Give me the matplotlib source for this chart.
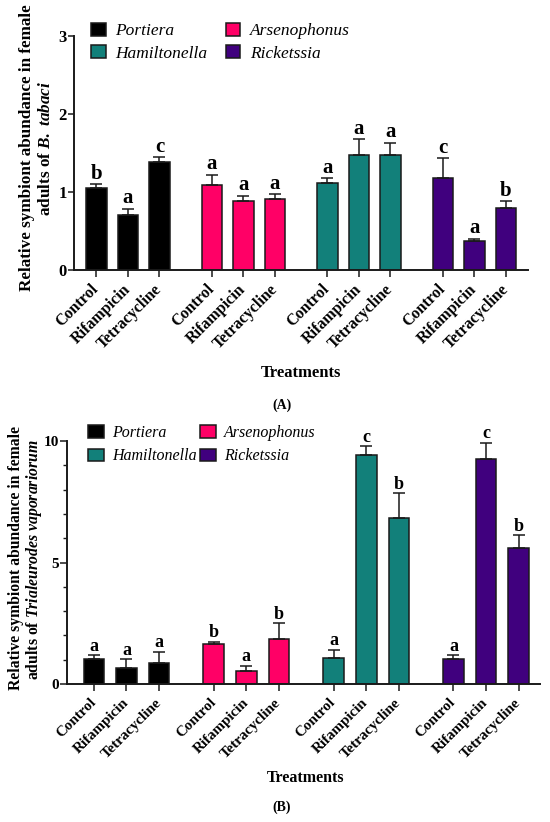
import matplotlib
matplotlib.use("Agg")
import matplotlib.pyplot as plt
from matplotlib.patches import Patch
import numpy as np

# ---------------- data ----------------
treatments = ["Control", "Rifampicin", "Tetracycline"]
symbionts = ["Portiera", "Arsenophonus", "Hamiltonella", "Ricketssia"]
colors = ["#000000", "#FF0066", "#12807A", "#40007E"]

# Panel A: B. tabaci
a_portiera = [1.055, 0.705, 1.385]
a_portiera_err = [0.045, 0.075, 0.06]
a_arseno = [1.085, 0.88, 0.91]
a_arseno_err = [0.135, 0.07, 0.06]
a_hamilt = [1.115, 1.47, 1.47]
a_hamilt_err = [0.06, 0.205, 0.16]
a_ricket = [1.18, 0.376, 0.80]
a_ricket_err = [0.25, 0.025, 0.08]
a_letters = [["b", "a", "c"], ["a", "a", "a"], ["a", "a", "a"], ["c", "a", "b"]]

# Panel B: Trialeurodes vaporariorum
b_portiera = [1.01, 0.67, 0.86]
b_portiera_err = [0.17, 0.34, 0.47]
b_arseno = [1.64, 0.52, 1.86]
b_arseno_err = [0.10, 0.23, 0.63]
b_hamilt = [1.05, 9.42, 6.85]
b_hamilt_err = [0.35, 0.36, 0.99]
b_ricket = [1.01, 9.27, 5.60]
b_ricket_err = [0.17, 0.65, 0.52]
b_letters = [["a", "a", "a"], ["b", "a", "b"], ["a", "c", "b"], ["a", "c", "b"]]

# ---------------- style ----------------
plt.rcParams["font.family"] = ["Liberation Serif", "DejaVu Serif"]
plt.rcParams["font.weight"] = "bold"
plt.rcParams["mathtext.fontset"] = "custom"
plt.rcParams["mathtext.rm"] = "Liberation Serif:bold"
plt.rcParams["mathtext.it"] = "Liberation Serif:italic:bold"
plt.rcParams["mathtext.bf"] = "Liberation Serif:bold"

W, H = 550, 822
fig = plt.figure(figsize=(W / 100, H / 100), dpi=100)
GROUP = 3.667
EDGE = "#1a1a1a"


def ax_at(l, r, t, b):
    return fig.add_axes([l / W, 1 - b / H, (r - l) / W, (b - t) / H])


def draw(ax, means, errs, letters, width, ylim, xlim, lfs, tfs, yfs):
    xs_all = []
    for g in range(4):
        xs = g * GROUP + np.arange(3)
        xs_all.extend(xs)
        ax.bar(xs, means[g], width, color=colors[g], edgecolor=EDGE,
               linewidth=1.1, zorder=2)
        ax.errorbar(xs, means[g], yerr=[np.zeros(3), errs[g]], fmt="none",
                    ecolor=EDGE, elinewidth=1.1, capsize=4.3, capthick=1.1,
                    zorder=3)
        for x, m, e, l in zip(xs, means[g], errs[g], letters[g]):
            ax.annotate(l, (x, m + e), xytext=(0, 0.5), textcoords="offset points",
                        ha="center", va="bottom", fontsize=lfs, fontweight="bold")
    ax.set_xlim(*xlim)
    ax.set_ylim(*ylim)
    ax.set_xticks(xs_all)
    ax.set_xticklabels(treatments * 4, rotation=45, ha="right", va="center",
                       rotation_mode="anchor", fontsize=tfs, fontweight="bold")
    for s in ["top", "right"]:
        ax.spines[s].set_visible(False)
    for s in ["left", "bottom"]:
        ax.spines[s].set_linewidth(1.4)
        ax.spines[s].set_color(EDGE)
    ax.tick_params(axis="x", length=5, width=1.1, pad=7, color=EDGE)
    ax.tick_params(axis="y", length=4, width=1.1, pad=1.0, color=EDGE)


# ---------------- panel A ----------------
axA = ax_at(74, 528, 36, 270)
draw(axA,
     [a_portiera, a_arseno, a_hamilt, a_ricket],
     [a_portiera_err, a_arseno_err, a_hamilt_err, a_ricket_err],
     a_letters, 0.65, (0, 3), (-0.71, 13.7), 15, 11.5, 11.5)
axA.set_yticks([0, 1, 2, 3])
axA.set_yticklabels(["0", "1", "2", "3"], fontweight="bold", fontsize=12)

handles = [Patch(facecolor=colors[i], edgecolor=EDGE, linewidth=1.1, label=symbionts[i])
           for i in [0, 2, 1, 3]]
legA = axA.legend(handles=handles, ncol=2, frameon=False, loc="upper left",
                  bbox_to_anchor=((91 - 74) / 454, 1 + (36 - 23) / 234),
                  prop={"family": "Liberation Serif", "style": "italic",
                        "weight": "normal", "size": 12.5},
                  handlelength=0.85, handleheight=0.75, handletextpad=0.55,
                  columnspacing=1.05, labelspacing=0.35, borderpad=0,
                  borderaxespad=0)

fig.text(27 / W, 1 - 148 / H, "Relative symbiont abundance in female",
         rotation=90, ha="center", va="center", fontsize=12.3, fontweight="bold")
fig.text(46 / W, 1 - 148 / H, r"adults of $\mathit{B.\ tabaci}$",
         rotation=90, ha="center", va="center", fontsize=12.3, fontweight="bold")
fig.text(301 / W, 1 - 373 / H, "Treatments", ha="center", va="center",
         fontsize=12, fontweight="bold")
fig.text(282 / W, 1 - 405 / H, "(A)", ha="center", va="center",
         fontsize=10, fontweight="bold")

# ---------------- panel B ----------------
axB = ax_at(67, 540, 441, 684)
draw(axB,
     [b_portiera, b_arseno, b_hamilt, b_ricket],
     [b_portiera_err, b_arseno_err, b_hamilt_err, b_ricket_err],
     b_letters, 0.63, (0, 10), (-0.82, 13.65), 13, 10.8, 11)
axB.set_yticks([0, 5, 10])
axB.set_yticklabels(["0", "5", "10"], fontweight="bold", fontsize=11)
axB.set_yticks(np.arange(0, 11, 1), minor=True)
axB.tick_params(axis="y", which="minor", length=3, width=1.0, color=EDGE)
axB.tick_params(axis="y", which="major", length=5, pad=0.5)

legB = axB.legend(handles=handles, ncol=2, frameon=False, loc="upper left",
                  bbox_to_anchor=((88 - 67) / 473, 1 + (441 - 425) / 243),
                  prop={"family": "Liberation Serif", "style": "italic",
                        "weight": "normal", "size": 11.5},
                  handlelength=1.0, handleheight=0.8, handletextpad=0.5,
                  columnspacing=0.2, labelspacing=0.45, borderpad=0,
                  borderaxespad=0)

fig.text(16 / W, 1 - 558 / H, "Relative symbiont abundance in female",
         rotation=90, ha="center", va="center", fontsize=11.3, fontweight="bold")
fig.text(34 / W, 1 - 560 / H, r"adults of $\mathit{Trialeurodes\ vaporariorum}$",
         rotation=90, ha="center", va="center", fontsize=11.3, fontweight="bold")
fig.text(306 / W, 1 - 778 / H, "Treatments", ha="center", va="center",
         fontsize=11.5, fontweight="bold")
fig.text(282 / W, 1 - 807 / H, "(B)", ha="center", va="center",
         fontsize=10, fontweight="bold")

fig.savefig("out.png", dpi=100)
